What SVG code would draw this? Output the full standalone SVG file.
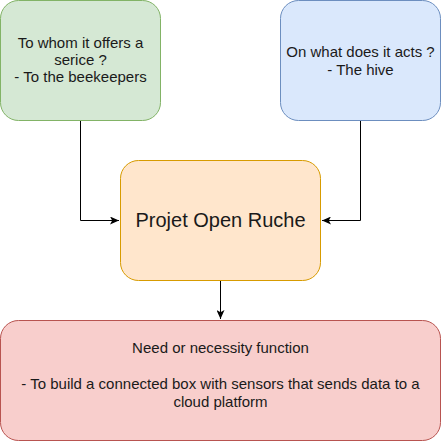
<svg xmlns="http://www.w3.org/2000/svg" width="441" height="441" viewBox="0 0 441 441">
<style>
text{font-family:"Liberation Sans",Arial,sans-serif;fill:#1a1a1a;text-anchor:middle}
.s{font-size:15px}
.b{font-size:20px}
.e{fill:none;stroke:#000;stroke-width:1}
</style>
<defs>
<marker id="ah" viewBox="0 0 10 8" refX="9" refY="4" markerWidth="10" markerHeight="8" markerUnits="userSpaceOnUse" orient="auto">
<path d="M0,0 L9,4 L0,8 L2.2,4 Z" fill="#000"/>
</marker>
</defs>
<rect width="441" height="441" fill="#fff"/>
<g id="connectors">
<path class="e" d="M80.5,120.5 V220.5 H119" marker-end="url(#ah)"/>
<path class="e" d="M360.5,120.5 V220.5 H322" marker-end="url(#ah)"/>
<path class="e" d="M220.5,280.5 V319" marker-end="url(#ah)"/>
</g>
<g id="node-customer">
<rect x="0.5" y="0.5" width="160" height="120" rx="18" fill="#d5e8d4" stroke="#82b366"/>
<text class="s" x="80.5" y="48">To whom it offers a</text>
<text class="s" x="80.5" y="65">serice ?</text>
<text class="s" x="80.5" y="82">- To the beekeepers</text>
</g>
<g id="node-target">
<rect x="280.5" y="0.5" width="160" height="120" rx="18" fill="#dae8fc" stroke="#6c8ebf"/>
<text class="s" x="360.5" y="57">On what does it acts ?</text>
<text class="s" x="360.5" y="75">- The hive</text>
</g>
<g id="node-project">
<rect x="120.5" y="160.5" width="200" height="120" rx="18" fill="#ffe6cc" stroke="#d79b00"/>
<text class="b" x="220.5" y="227">Projet Open Ruche</text>
</g>
<g id="node-need">
<rect x="0.5" y="320.5" width="440" height="120" rx="18" fill="#f8cecc" stroke="#b85450"/>
<text class="s" x="220.5" y="353">Need or necessity function</text>
<text class="s" x="220.5" y="389">- To build a connected box with sensors that sends data to a</text>
<text class="s" x="220.5" y="407">cloud platform</text>
</g>
</svg>
